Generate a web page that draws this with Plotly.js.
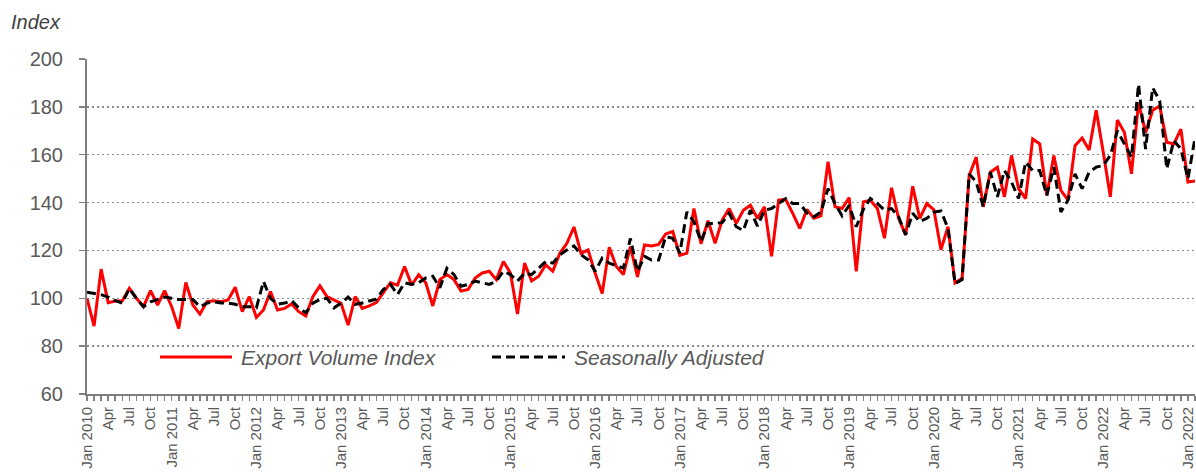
<!DOCTYPE html>
<html>
<head>
<meta charset="utf-8">
<script src="https://cdn.plot.ly/plotly-3.0.1.min.js"></script>
<style>
  html, body { margin: 0; padding: 0; background: #ffffff; }
  #chart { width: 1196px; height: 474px; }
</style>
</head>
<body>
<div id="chart"></div>
<script>
// Monthly index values, Jan 2010 onwards
const exportVolume = [
  100, 88.4, 112.2, 98.2, 98.9, 99, 104.2, 100, 96.5, 103.2, 97.2, 103.2,
  96.5, 87.4, 106.6, 97.2, 93.4, 98.6, 99, 98.6, 99.3, 104.6, 94.4, 100.7,
  92, 95.1, 102.8, 95.1, 95.8, 97.6, 94.4, 92.6, 100.7, 105.2, 100.7, 99.3,
  97.9, 88.8, 100.7, 95.8, 96.8, 98.2, 102.3, 106.5, 105.5, 113.3, 105.5, 109.9,
  106.5, 96.8, 107.8, 109.9, 107.8, 103, 103.7, 108.5, 110.6, 111.3, 107.8, 115.4,
  110.6, 93.4, 114.7, 107.2, 109.2, 114, 111.3, 118.8, 123, 129.8, 118.8, 120.2,
  110.6, 102, 121.3, 113.3, 109.9, 121.6, 108.9, 122.3, 121.9, 122.5, 126.9, 127.9,
  117.9, 118.9, 137.5, 122.8, 132.4, 123, 132.7, 137.5, 131.3, 136.8, 138.9, 133.4,
  138.2, 117.5, 141, 141.3, 135.5, 129.2, 137.1, 133.4, 134.4, 157.1, 138.2, 137.5,
  142.1, 111.3, 140.3, 141, 137.5, 125.1, 146.2, 133.4, 126.5, 146.8, 133.4, 139.6,
  137, 120.3, 129.9, 106.4, 108.4, 151.3, 159, 138.2, 152.7, 154.8, 142.4, 159.7,
  145.8, 141.7, 166.6, 164.5, 143, 159.7, 145.1, 141, 163.8, 167, 162, 178.6,
  161, 142.4, 174.5, 169.3, 152, 181.8, 169.3, 178.6, 180.4, 165.2, 164.5, 170.7,
  148.6, 149
];
const seasonallyAdjusted = [
  102.5, 102, 101.5, 100.5, 99, 98, 104, 100, 96.5, 98.5, 99.5, 100.5,
  100, 99.5, 99.5, 99.5, 96.5, 98, 98.5, 98, 98, 97.5, 96.5, 96.5,
  96, 107, 100, 97.5, 98, 99, 96, 94, 98, 99.5, 100, 96,
  98, 100.5, 97.5, 98, 98.9, 99.6, 103.7, 105.8, 101.6, 106.5, 105.8, 106.5,
  108.5, 109.2, 104.4, 112.6, 109.9, 105, 105.8, 107.2, 106.5, 105.8, 107.2, 111.3,
  109.9, 107.2, 110.6, 109.9, 112.6, 115.4, 114.7, 118.2, 120.2, 121.9, 118.2, 116.1,
  111.3, 116.8, 114.7, 113.6, 112.6, 125, 111.3, 117.5, 116, 116, 125.8, 125.1,
  118.9, 136.1, 132, 123.7, 131.3, 131.3, 131.6, 135.5, 129.9, 128.3, 136.8, 130.2,
  136.8, 137.5, 139.6, 141.7, 139.6, 139.6, 135.7, 134.1, 136.1, 145.8, 139.6, 134.4,
  138.9, 129.9, 137.1, 141.7, 139.6, 136.8, 137.5, 134.1, 126.5, 135.5, 132, 133.4,
  136, 136.5, 129.2, 106.1, 107.8, 152, 148.6, 138.2, 152.7, 142.4, 153.4, 148.6,
  141.7, 156.9, 153.4, 153.4, 143, 154.8, 136.1, 141, 152, 145.8, 152.7, 154.8,
  155.5, 159.7, 170, 164.5, 159, 189.4, 162.4, 188, 182.5, 154.1, 165.9, 162.4,
  150, 167
];
// Quarterly tick labels as printed on the chart
const quarterLabels = [
  "Jan 2010","Apr","Jul","Oct","Jan 2011","Apr","Jul","Oct",
  "Jan 2012","Apr","Jul","Oct","Jan 2013","Apr","Jul","Oct",
  "Jan 2014","Apr","Jul","Oct","Jan 2015","Apr","Jul","Oct",
  "Jan 2016","Apr","Jul","Oct","Jan 2017","Apr","Jul","Oct",
  "Jan 2018","Apr","Jul","Oct","Jan 2019","Apr","Jul","Oct",
  "Jan 2020","Apr","Jul","Oct","Jan 2021","Apr","Jul","Oct",
  "Jan 2022","Apr","Jul","Oct","Jan 2022"
];
const yTicks = [60, 80, 100, 120, 140, 160, 180, 200];
const startYear = 2010;

// Month categories
const months = [];
for (let i = 0; i < exportVolume.length; i++) {
  const y = startYear + Math.floor(i / 12);
  const m = (i % 12) + 1;
  months.push(y + "-" + (m < 10 ? "0" + m : m));
}
const tickText = months.map((mm, i) => (i % 3 === 0 && quarterLabels[i / 3] !== undefined) ? quarterLabels[i / 3] : "");

const grey = "#808080";
const textGrey = "#595959";

const traces = [
  {
    x: months, y: exportVolume, type: "scatter", mode: "lines",
    name: "Export Volume Index",
    line: { color: "#ff0000", width: 3 }
  },
  {
    x: months, y: seasonallyAdjusted, type: "scatter", mode: "lines",
    name: "Seasonally Adjusted",
    line: { color: "#000000", width: 3, dash: "9px,5px" }
  }
];

const L = 87, R = 1, T = 59, B = 80, W = 1196, H = 474;
const pw = W - L - R, ph = H - T - B;
const px = v => (v - L) / pw;
const py = v => (H - B - v) / ph;

const layout = {
  width: W, height: H,
  margin: { l: L, r: R, t: T, b: B, pad: 0 },
  paper_bgcolor: "#ffffff", plot_bgcolor: "#ffffff",
  showlegend: false,
  xaxis: {
    type: "category",
    range: [0, exportVolume.length - 1],
    tickmode: "array", tickvals: months, ticktext: tickText,
    tickangle: -90,
    ticks: "outside", ticklen: 5, tickwidth: 1.5, tickcolor: grey,
    showline: true, linecolor: grey, linewidth: 2,
    showgrid: false, zeroline: false,
    tickfont: { family: "Liberation Sans, Arial, sans-serif", size: 15, color: textGrey },
    ticklabelstandoff: 0,
    fixedrange: true
  },
  yaxis: {
    range: [60, 200],
    tickmode: "array", tickvals: yTicks,
    ticks: "outside", ticklen: 6, tickwidth: 1.5, tickcolor: grey,
    showline: true, linecolor: grey, linewidth: 2,
    showgrid: true, gridcolor: "#8c8c8c", gridwidth: 1.5, griddash: "2px,3px",
    zeroline: false,
    tickfont: { family: "Liberation Sans, Arial, sans-serif", size: 20, color: textGrey },
    ticklabelstandoff: 12,
    fixedrange: true
  },
  shapes: [
    { type: "line", xref: "paper", yref: "paper", x0: px(160), x1: px(232), y0: py(357), y1: py(357),
      line: { color: "#ff0000", width: 3 } },
    { type: "line", xref: "paper", yref: "paper", x0: px(492), x1: px(565), y0: py(357), y1: py(357),
      line: { color: "#000000", width: 3, dash: "9px,5px" } }
  ],
  annotations: [
    { text: "<i>Index</i>", xref: "paper", yref: "paper", x: px(9), y: py(22),
      xanchor: "left", yanchor: "middle", showarrow: false,
      font: { family: "Liberation Sans, Arial, sans-serif", size: 20, color: "#404040" } },
    { text: "<i>Export Volume Index</i>", xref: "paper", yref: "paper", x: px(239), y: py(357),
      xanchor: "left", yanchor: "middle", showarrow: false,
      font: { family: "Liberation Sans, Arial, sans-serif", size: 21, color: textGrey } },
    { text: "<i>Seasonally Adjusted</i>", xref: "paper", yref: "paper", x: px(572), y: py(357),
      xanchor: "left", yanchor: "middle", showarrow: false,
      font: { family: "Liberation Sans, Arial, sans-serif", size: 21, color: textGrey } }
  ]
};

Plotly.newPlot("chart", traces, layout, { displayModeBar: false, staticPlot: true });
</script>
</body>
</html>
